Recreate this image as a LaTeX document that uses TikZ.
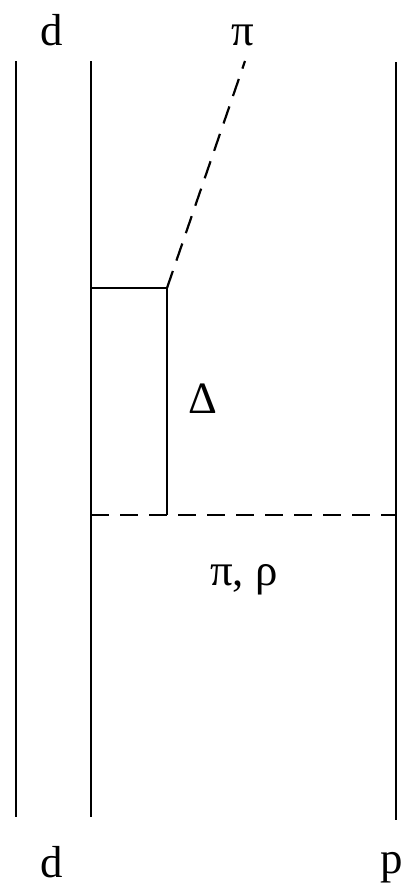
\documentclass[tikz,border=0pt]{standalone}
\usepackage{fontspec}
\setmainfont{Liberation Serif}
\usetikzlibrary{positioning}

\begin{document}
\begin{tikzpicture}[
  x=1bp, y=-1bp,
  quark/.style={line width=2.2bp},
  meson/.style={line width=2.2bp, dash pattern=on 18bp off 11bp},
  lbl/.style={font=\fontsize{45}{54}\selectfont, inner sep=0pt, anchor=base}
]
  \useasboundingbox (0,0) rectangle (410,893);

  % quark lines
  \coordinate (q1top) at (16,61);   \coordinate (q1bot) at (16,817);
  \coordinate (q2top) at (91,61);   \coordinate (q2bot) at (91,817);
  \coordinate (q3top) at (396,62);  \coordinate (q3bot) at (396,820);
  \draw[quark] (q1top) -- (q1bot);
  \draw[quark] (q2top) -- (q2bot);
  \draw[quark] (q3top) -- (q3bot);

  % Delta
  \coordinate (dA) at (91,288);
  \coordinate (dB) at (167,288);
  \coordinate (dC) at (167,515);
  \coordinate (pEnd) at (245,61);
  \coordinate (xR) at (396,515);
  \coordinate (xL) at (91,515);
  \draw[quark, line width=2.7bp] (dA) -- (dB);
  \draw[quark] (dB) -- (dC);
  \draw[meson] (dB) -- (pEnd);
  \draw[meson] (xL) -- (xR);

  \node[lbl] (dIn)   at (52,45)  {d};
  \node[lbl] (piOut) at (243,45) {π};
  \node[lbl] (Delta) at (203,413) {Δ};
  \node[lbl] (exch)  at (244,585) {π, ρ};
  \node[lbl] (dOut)  at (52,877) {d};
  \node[lbl] (pOut)  at (392,873) {p};
\end{tikzpicture}
\end{document}
